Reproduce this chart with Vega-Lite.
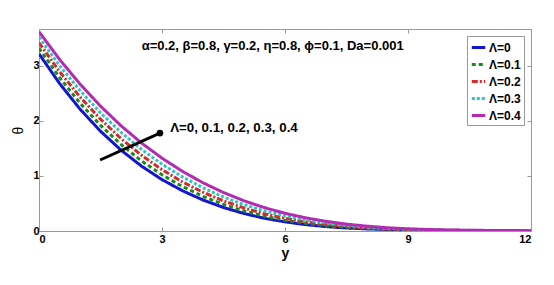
{
"$schema": "https://vega.github.io/schema/vega-lite/v6.json",
"autosize": {"type": "none"},
"width": 492, "height": 202,
"padding": {"left": 39, "top": 29, "right": 23, "bottom": 54},
"background": "white",
"config": {"view": {"stroke": "#999", "strokeWidth": 1}, "font": "Liberation Sans"},
"datasets": {
"curves": [
{"s":"Λ=0","yv":0,"theta":3.22},{"s":"Λ=0","yv":0.5,"theta":2.682},{"s":"Λ=0","yv":1,"theta":2.215},{"s":"Λ=0","yv":1.5,"theta":1.813},{"s":"Λ=0","yv":2,"theta":1.47},{"s":"Λ=0","yv":2.5,"theta":1.179},{"s":"Λ=0","yv":3,"theta":0.934},{"s":"Λ=0","yv":3.5,"theta":0.731},{"s":"Λ=0","yv":4,"theta":0.563},{"s":"Λ=0","yv":4.5,"theta":0.427},{"s":"Λ=0","yv":5,"theta":0.317},{"s":"Λ=0","yv":5.5,"theta":0.231},{"s":"Λ=0","yv":6,"theta":0.166},{"s":"Λ=0","yv":6.5,"theta":0.116},{"s":"Λ=0","yv":7,"theta":0.08},{"s":"Λ=0","yv":7.5,"theta":0.054},{"s":"Λ=0","yv":8,"theta":0.038},{"s":"Λ=0","yv":8.5,"theta":0.027},{"s":"Λ=0","yv":9,"theta":0.02},{"s":"Λ=0","yv":9.5,"theta":0.014},{"s":"Λ=0","yv":10,"theta":0.01},{"s":"Λ=0","yv":11,"theta":0.006},{"s":"Λ=0","yv":12,"theta":0.004},
{"s":"Λ=0.1","yv":0,"theta":3.32},{"s":"Λ=0.1","yv":0.5,"theta":2.789},{"s":"Λ=0.1","yv":1,"theta":2.324},{"s":"Λ=0.1","yv":1.5,"theta":1.92},{"s":"Λ=0.1","yv":2,"theta":1.572},{"s":"Λ=0.1","yv":2.5,"theta":1.274},{"s":"Λ=0.1","yv":3,"theta":1.021},{"s":"Λ=0.1","yv":3.5,"theta":0.808},{"s":"Λ=0.1","yv":4,"theta":0.63},{"s":"Λ=0.1","yv":4.5,"theta":0.483},{"s":"Λ=0.1","yv":5,"theta":0.364},{"s":"Λ=0.1","yv":5.5,"theta":0.269},{"s":"Λ=0.1","yv":6,"theta":0.196},{"s":"Λ=0.1","yv":6.5,"theta":0.14},{"s":"Λ=0.1","yv":7,"theta":0.097},{"s":"Λ=0.1","yv":7.5,"theta":0.066},{"s":"Λ=0.1","yv":8,"theta":0.045},{"s":"Λ=0.1","yv":8.5,"theta":0.032},{"s":"Λ=0.1","yv":9,"theta":0.024},{"s":"Λ=0.1","yv":9.5,"theta":0.016},{"s":"Λ=0.1","yv":10,"theta":0.011},{"s":"Λ=0.1","yv":11,"theta":0.007},{"s":"Λ=0.1","yv":12,"theta":0.004},
{"s":"Λ=0.2","yv":0,"theta":3.42},{"s":"Λ=0.2","yv":0.5,"theta":2.897},{"s":"Λ=0.2","yv":1,"theta":2.436},{"s":"Λ=0.2","yv":1.5,"theta":2.032},{"s":"Λ=0.2","yv":2,"theta":1.68},{"s":"Λ=0.2","yv":2.5,"theta":1.375},{"s":"Λ=0.2","yv":3,"theta":1.114},{"s":"Λ=0.2","yv":3.5,"theta":0.891},{"s":"Λ=0.2","yv":4,"theta":0.704},{"s":"Λ=0.2","yv":4.5,"theta":0.547},{"s":"Λ=0.2","yv":5,"theta":0.418},{"s":"Λ=0.2","yv":5.5,"theta":0.313},{"s":"Λ=0.2","yv":6,"theta":0.231},{"s":"Λ=0.2","yv":6.5,"theta":0.167},{"s":"Λ=0.2","yv":7,"theta":0.117},{"s":"Λ=0.2","yv":7.5,"theta":0.081},{"s":"Λ=0.2","yv":8,"theta":0.055},{"s":"Λ=0.2","yv":8.5,"theta":0.038},{"s":"Λ=0.2","yv":9,"theta":0.028},{"s":"Λ=0.2","yv":9.5,"theta":0.019},{"s":"Λ=0.2","yv":10,"theta":0.013},{"s":"Λ=0.2","yv":11,"theta":0.008},{"s":"Λ=0.2","yv":12,"theta":0.005},
{"s":"Λ=0.3","yv":0,"theta":3.52},{"s":"Λ=0.3","yv":0.5,"theta":3.007},{"s":"Λ=0.3","yv":1,"theta":2.551},{"s":"Λ=0.3","yv":1.5,"theta":2.148},{"s":"Λ=0.3","yv":2,"theta":1.793},{"s":"Λ=0.3","yv":2.5,"theta":1.483},{"s":"Λ=0.3","yv":3,"theta":1.214},{"s":"Λ=0.3","yv":3.5,"theta":0.983},{"s":"Λ=0.3","yv":4,"theta":0.785},{"s":"Λ=0.3","yv":4.5,"theta":0.618},{"s":"Λ=0.3","yv":5,"theta":0.479},{"s":"Λ=0.3","yv":5.5,"theta":0.364},{"s":"Λ=0.3","yv":6,"theta":0.273},{"s":"Λ=0.3","yv":6.5,"theta":0.2},{"s":"Λ=0.3","yv":7,"theta":0.143},{"s":"Λ=0.3","yv":7.5,"theta":0.1},{"s":"Λ=0.3","yv":8,"theta":0.069},{"s":"Λ=0.3","yv":8.5,"theta":0.047},{"s":"Λ=0.3","yv":9,"theta":0.034},{"s":"Λ=0.3","yv":9.5,"theta":0.022},{"s":"Λ=0.3","yv":10,"theta":0.015},{"s":"Λ=0.3","yv":11,"theta":0.009},{"s":"Λ=0.3","yv":12,"theta":0.005},
{"s":"Λ=0.4","yv":0,"theta":3.62},{"s":"Λ=0.4","yv":0.5,"theta":3.119},{"s":"Λ=0.4","yv":1,"theta":2.67},{"s":"Λ=0.4","yv":1.5,"theta":2.269},{"s":"Λ=0.4","yv":2,"theta":1.912},{"s":"Λ=0.4","yv":2.5,"theta":1.598},{"s":"Λ=0.4","yv":3,"theta":1.323},{"s":"Λ=0.4","yv":3.5,"theta":1.083},{"s":"Λ=0.4","yv":4,"theta":0.876},{"s":"Λ=0.4","yv":4.5,"theta":0.699},{"s":"Λ=0.4","yv":5,"theta":0.549},{"s":"Λ=0.4","yv":5.5,"theta":0.424},{"s":"Λ=0.4","yv":6,"theta":0.322},{"s":"Λ=0.4","yv":6.5,"theta":0.24},{"s":"Λ=0.4","yv":7,"theta":0.175},{"s":"Λ=0.4","yv":7.5,"theta":0.125},{"s":"Λ=0.4","yv":8,"theta":0.088},{"s":"Λ=0.4","yv":8.5,"theta":0.059},{"s":"Λ=0.4","yv":9,"theta":0.04},{"s":"Λ=0.4","yv":9.5,"theta":0.027},{"s":"Λ=0.4","yv":10,"theta":0.018},{"s":"Λ=0.4","yv":11,"theta":0.01},{"s":"Λ=0.4","yv":12,"theta":0.006}
]
},
"layer": [
{
"data": {"name": "curves"},
"mark": {"type": "line", "strokeWidth": 3, "clip": true},
"encoding": {
"x": {"field": "yv", "type": "quantitative", "scale": {"domain": [0, 12], "nice": false, "zero": false},
"axis": {"values": [0,3,6,9,12], "title": "y", "titleFont": "Liberation Sans", "titleFontWeight": "bold", "titleFontSize": 14, "titlePadding": 2, "labelFont": "Liberation Sans", "labelFontWeight": "bold", "labelFontSize": 11, "labelColor": "black", "titleColor": "black", "domainColor": "#999", "tickColor": "#999", "tickSize": -4, "labelPadding": 6, "grid": false}},
"y": {"field": "theta", "type": "quantitative", "scale": {"domain": [0, 3.67], "nice": false},
"axis": {"values": [0,1,2,3], "title": "θ", "titleFont": "Liberation Sans", "titleFontWeight": "normal", "titleFontSize": 14, "titlePadding": 7, "labelFont": "Liberation Sans", "labelFontWeight": "bold", "labelFontSize": 11, "labelColor": "black", "titleColor": "black", "domainColor": "#999", "tickColor": "#999", "tickSize": -4, "labelPadding": 4, "grid": false}},
"color": {"field": "s", "type": "nominal", "scale": {"domain": ["Λ=0","Λ=0.1","Λ=0.2","Λ=0.3","Λ=0.4"], "range": ["#1414d2","#1a8a1a","#d42a2a","#2cc4c4","#b52ab5"]},
"legend": {"title": null, "orient": "top-right", "offset": 7, "symbolType": "stroke", "symbolStrokeWidth": 3, "symbolSize": 180, "labelFont": "Liberation Sans", "labelFontWeight": "bold", "labelFontSize": 12, "labelColor": "black", "strokeColor": "#999", "fillColor": "white", "padding": 3, "rowPadding": 2, "labelOffset": 2}},
"strokeDash": {"field": "s", "type": "nominal", "scale": {"domain": ["Λ=0","Λ=0.1","Λ=0.2","Λ=0.3","Λ=0.4"], "range": [[1,0],[4,3],[6,2,2,2],[3,2],[1,0]]},
"legend": {"title": null, "orient": "top-right", "offset": 7, "symbolType": "stroke", "symbolStrokeWidth": 3, "symbolSize": 180, "labelFont": "Liberation Sans", "labelFontWeight": "bold", "labelFontSize": 12, "labelColor": "black", "strokeColor": "#999", "fillColor": "white", "padding": 3, "rowPadding": 2, "labelOffset": 2}}
}
},
{
"data": {"values": [{"x1": 1.49, "y1": 1.29, "x2": 2.95, "y2": 1.78}]},
"mark": {"type": "rule", "strokeWidth": 3, "color": "black"},
"encoding": {"x": {"field": "x1", "type": "quantitative", "axis": null}, "y": {"field": "y1", "type": "quantitative", "axis": null}, "x2": {"field": "x2"}, "y2": {"field": "y2"}}
},
{
"data": {"values": [{"x2": 2.95, "y2": 1.78}]},
"mark": {"type": "point", "filled": true, "size": 45, "color": "black", "opacity": 1},
"encoding": {"x": {"field": "x2", "type": "quantitative", "axis": null}, "y": {"field": "y2", "type": "quantitative", "axis": null}}
},
{
"data": {"values": [{"tx": 3.2, "ty": 1.87, "label": "Λ=0, 0.1, 0.2, 0.3, 0.4"}]},
"mark": {"type": "text", "align": "left", "baseline": "middle", "font": "Liberation Sans", "fontWeight": "bold", "fontSize": 13.3, "color": "black"},
"encoding": {"x": {"field": "tx", "type": "quantitative", "axis": null}, "y": {"field": "ty", "type": "quantitative", "axis": null}, "text": {"field": "label"}}
},
{
"data": {"values": [{"tx": 5.7, "ty": 3.36, "label": "α=0.2, β=0.8, γ=0.2, η=0.8, ϕ=0.1, Da=0.001"}]},
"mark": {"type": "text", "align": "center", "baseline": "middle", "font": "Liberation Sans", "fontWeight": "bold", "fontSize": 13, "color": "black"},
"encoding": {"x": {"field": "tx", "type": "quantitative", "axis": {"orient": "top", "values": [0,3,6,9,12], "labels": false, "title": null, "domain": false, "tickColor": "#999", "tickSize": -4, "grid": false}},
"y": {"field": "ty", "type": "quantitative", "axis": {"orient": "right", "values": [0,1,2,3], "labels": false, "title": null, "domain": false, "tickColor": "#999", "tickSize": -4, "grid": false}}, "text": {"field": "label"}}
}
],
"resolve": {"axis": {"x": "independent", "y": "independent"}}
}
